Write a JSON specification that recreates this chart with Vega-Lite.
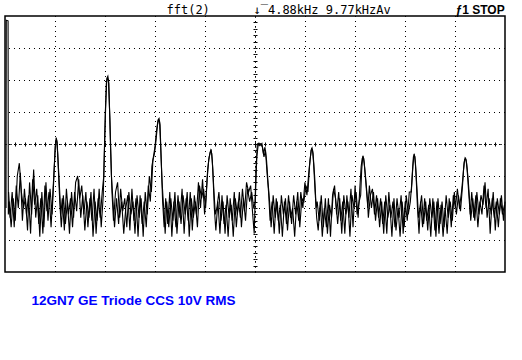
{
  "$schema": "https://vega.github.io/schema/vega-lite/v6.json",
  "width": 500,
  "height": 256,
  "autosize": "none",
  "padding": {"left": 5, "top": 16, "right": 17, "bottom": 88},
  "background": "white",
  "config": {
    "view": {"stroke": "black", "strokeWidth": 1.5},
    "axis": {"labels": false, "grid": false, "tickColor": "black", "domainColor": "black", "domainDash": [1, 4], "tickSize": 2, "tickWidth": 1, "titleColor": "black"}
  },
  "datasets": {
    "gx": [{"f": 0.977}, {"f": 1.954}, {"f": 2.931}, {"f": 3.908}, {"f": 4.885}, {"f": 5.862}, {"f": 6.839}, {"f": 7.816}, {"f": 8.793}],
    "gy": [{"db": -10}, {"db": -20}, {"db": -30}, {"db": -40}, {"db": -50}, {"db": -60}, {"db": -70}],
    "trace": [
      {"s": 1, "f": 0.02, "db": -60}, {"s": 1, "f": 0.025, "db": -1.3}, {"s": 1, "f": 0.06, "db": -1.5}, {"s": 1, "f": 0.065, "db": -62},
      {"s": 1, "f": 0.08, "db": -58}, {"s": 1, "f": 0.12, "db": -66}, {"s": 1, "f": 0.16, "db": -57}, {"s": 1, "f": 0.20, "db": -64}, {"s": 1, "f": 0.24, "db": -50}, {"s": 1, "f": 0.28, "db": -46}, {"s": 1, "f": 0.32, "db": -55}, {"s": 1, "f": 0.36, "db": -60}, {"s": 1, "f": 0.40, "db": -57}, {"s": 1, "f": 0.44, "db": -67}, {"s": 1, "f": 0.48, "db": -52}, {"s": 1, "f": 0.52, "db": -62}, {"s": 1, "f": 0.56, "db": -48}, {"s": 1, "f": 0.60, "db": -63}, {"s": 1, "f": 0.64, "db": -56}, {"s": 1, "f": 0.68, "db": -69}, {"s": 1, "f": 0.72, "db": -55}, {"s": 1, "f": 0.76, "db": -66}, {"s": 1, "f": 0.80, "db": -52}, {"s": 1, "f": 0.84, "db": -64}, {"s": 1, "f": 0.88, "db": -54}, {"s": 1, "f": 0.92, "db": -62},
      {"s": 1, "f": 0.95, "db": -52}, {"s": 1, "f": 0.98, "db": -41}, {"s": 1, "f": 1.00, "db": -38}, {"s": 1, "f": 1.02, "db": -39.5}, {"s": 1, "f": 1.04, "db": -47}, {"s": 1, "f": 1.07, "db": -58},
      {"s": 1, "f": 1.10, "db": -66}, {"s": 1, "f": 1.14, "db": -56}, {"s": 1, "f": 1.18, "db": -65}, {"s": 1, "f": 1.22, "db": -58}, {"s": 1, "f": 1.26, "db": -68}, {"s": 1, "f": 1.30, "db": -55}, {"s": 1, "f": 1.34, "db": -63}, {"s": 1, "f": 1.38, "db": -52}, {"s": 1, "f": 1.42, "db": -50}, {"s": 1, "f": 1.46, "db": -57}, {"s": 1, "f": 1.50, "db": -53}, {"s": 1, "f": 1.54, "db": -62}, {"s": 1, "f": 1.58, "db": -55}, {"s": 1, "f": 1.62, "db": -66}, {"s": 1, "f": 1.66, "db": -57}, {"s": 1, "f": 1.70, "db": -64}, {"s": 1, "f": 1.74, "db": -54}, {"s": 1, "f": 1.78, "db": -68}, {"s": 1, "f": 1.82, "db": -57}, {"s": 1, "f": 1.86, "db": -63}, {"s": 1, "f": 1.90, "db": -55},
      {"s": 1, "f": 1.93, "db": -50}, {"s": 1, "f": 1.96, "db": -30}, {"s": 1, "f": 1.99, "db": -19.5}, {"s": 1, "f": 2.01, "db": -18.8}, {"s": 1, "f": 2.03, "db": -21}, {"s": 1, "f": 2.06, "db": -40}, {"s": 1, "f": 2.09, "db": -55}, {"s": 1, "f": 2.12, "db": -64},
      {"s": 1, "f": 2.16, "db": -55}, {"s": 1, "f": 2.20, "db": -52}, {"s": 1, "f": 2.24, "db": -63}, {"s": 1, "f": 2.28, "db": -58}, {"s": 1, "f": 2.32, "db": -68}, {"s": 1, "f": 2.36, "db": -60}, {"s": 1, "f": 2.40, "db": -56}, {"s": 1, "f": 2.44, "db": -67}, {"s": 1, "f": 2.48, "db": -54}, {"s": 1, "f": 2.52, "db": -64}, {"s": 1, "f": 2.56, "db": -57}, {"s": 1, "f": 2.60, "db": -69}, {"s": 1, "f": 2.64, "db": -56}, {"s": 1, "f": 2.68, "db": -65}, {"s": 1, "f": 2.72, "db": -58}, {"s": 1, "f": 2.76, "db": -66}, {"s": 1, "f": 2.80, "db": -53}, {"s": 1, "f": 2.84, "db": -58},
      {"s": 1, "f": 2.87, "db": -47}, {"s": 1, "f": 2.90, "db": -44}, {"s": 1, "f": 2.93, "db": -41}, {"s": 1, "f": 2.96, "db": -36}, {"s": 1, "f": 2.99, "db": -32.5}, {"s": 1, "f": 3.01, "db": -32}, {"s": 1, "f": 3.03, "db": -34}, {"s": 1, "f": 3.05, "db": -44}, {"s": 1, "f": 3.08, "db": -58}, {"s": 1, "f": 3.11, "db": -66},
      {"s": 1, "f": 3.14, "db": -57}, {"s": 1, "f": 3.18, "db": -65}, {"s": 1, "f": 3.22, "db": -55}, {"s": 1, "f": 3.26, "db": -69}, {"s": 1, "f": 3.30, "db": -58}, {"s": 1, "f": 3.34, "db": -66}, {"s": 1, "f": 3.38, "db": -56}, {"s": 1, "f": 3.42, "db": -63}, {"s": 1, "f": 3.46, "db": -54}, {"s": 1, "f": 3.50, "db": -68}, {"s": 1, "f": 3.54, "db": -57}, {"s": 1, "f": 3.58, "db": -64}, {"s": 1, "f": 3.62, "db": -55}, {"s": 1, "f": 3.66, "db": -67}, {"s": 1, "f": 3.70, "db": -56}, {"s": 1, "f": 3.74, "db": -62}, {"s": 1, "f": 3.78, "db": -52}, {"s": 1, "f": 3.82, "db": -60}, {"s": 1, "f": 3.86, "db": -51}, {"s": 1, "f": 3.90, "db": -62},
      {"s": 1, "f": 3.93, "db": -56}, {"s": 1, "f": 3.96, "db": -48}, {"s": 1, "f": 3.99, "db": -44}, {"s": 1, "f": 4.02, "db": -42}, {"s": 1, "f": 4.04, "db": -43}, {"s": 1, "f": 4.06, "db": -48}, {"s": 1, "f": 4.09, "db": -60}, {"s": 1, "f": 4.12, "db": -67},
      {"s": 1, "f": 4.16, "db": -58}, {"s": 1, "f": 4.20, "db": -68}, {"s": 1, "f": 4.24, "db": -56}, {"s": 1, "f": 4.28, "db": -65}, {"s": 1, "f": 4.32, "db": -59}, {"s": 1, "f": 4.36, "db": -69}, {"s": 1, "f": 4.40, "db": -57}, {"s": 1, "f": 4.44, "db": -64}, {"s": 1, "f": 4.48, "db": -55}, {"s": 1, "f": 4.52, "db": -66}, {"s": 1, "f": 4.56, "db": -58}, {"s": 1, "f": 4.60, "db": -63}, {"s": 1, "f": 4.64, "db": -54}, {"s": 1, "f": 4.68, "db": -61}, {"s": 1, "f": 4.72, "db": -52}, {"s": 1, "f": 4.76, "db": -55}, {"s": 1, "f": 4.80, "db": -53}, {"s": 1, "f": 4.84, "db": -62}, {"s": 1, "f": 4.87, "db": -68},
      {"s": 1, "f": 4.90, "db": -50}, {"s": 1, "f": 4.93, "db": -40}, {"s": 1, "f": 4.96, "db": -39.7}, {"s": 1, "f": 5.00, "db": -40}, {"s": 1, "f": 5.03, "db": -41}, {"s": 1, "f": 5.06, "db": -44}, {"s": 1, "f": 5.09, "db": -42}, {"s": 1, "f": 5.12, "db": -49}, {"s": 1, "f": 5.15, "db": -55}, {"s": 1, "f": 5.18, "db": -64},
      {"s": 1, "f": 5.22, "db": -58}, {"s": 1, "f": 5.26, "db": -68}, {"s": 1, "f": 5.30, "db": -57}, {"s": 1, "f": 5.34, "db": -64}, {"s": 1, "f": 5.38, "db": -59}, {"s": 1, "f": 5.42, "db": -69}, {"s": 1, "f": 5.46, "db": -58}, {"s": 1, "f": 5.50, "db": -65}, {"s": 1, "f": 5.54, "db": -56}, {"s": 1, "f": 5.58, "db": -63}, {"s": 1, "f": 5.62, "db": -60}, {"s": 1, "f": 5.66, "db": -69}, {"s": 1, "f": 5.70, "db": -58}, {"s": 1, "f": 5.74, "db": -64}, {"s": 1, "f": 5.78, "db": -55}, {"s": 1, "f": 5.82, "db": -60}, {"s": 1, "f": 5.86, "db": -52}, {"s": 1, "f": 5.90, "db": -56},
      {"s": 1, "f": 5.93, "db": -50}, {"s": 1, "f": 5.96, "db": -45}, {"s": 1, "f": 5.99, "db": -41.5}, {"s": 1, "f": 6.01, "db": -42}, {"s": 1, "f": 6.03, "db": -46}, {"s": 1, "f": 6.06, "db": -55}, {"s": 1, "f": 6.09, "db": -63},
      {"s": 1, "f": 6.12, "db": -67}, {"s": 1, "f": 6.16, "db": -58}, {"s": 1, "f": 6.20, "db": -69}, {"s": 1, "f": 6.24, "db": -60}, {"s": 1, "f": 6.28, "db": -66}, {"s": 1, "f": 6.32, "db": -57}, {"s": 1, "f": 6.36, "db": -69}, {"s": 1, "f": 6.40, "db": -56}, {"s": 1, "f": 6.44, "db": -53}, {"s": 1, "f": 6.48, "db": -62}, {"s": 1, "f": 6.52, "db": -55}, {"s": 1, "f": 6.56, "db": -64}, {"s": 1, "f": 6.60, "db": -58}, {"s": 1, "f": 6.64, "db": -68}, {"s": 1, "f": 6.68, "db": -56}, {"s": 1, "f": 6.72, "db": -63}, {"s": 1, "f": 6.76, "db": -54}, {"s": 1, "f": 6.80, "db": -66}, {"s": 1, "f": 6.84, "db": -53}, {"s": 1, "f": 6.88, "db": -62}, {"s": 1, "f": 6.92, "db": -58},
      {"s": 1, "f": 6.95, "db": -56}, {"s": 1, "f": 6.97, "db": -48}, {"s": 1, "f": 6.99, "db": -44}, {"s": 1, "f": 7.01, "db": -44.5}, {"s": 1, "f": 7.03, "db": -48}, {"s": 1, "f": 7.06, "db": -54}, {"s": 1, "f": 7.09, "db": -60},
      {"s": 1, "f": 7.12, "db": -53}, {"s": 1, "f": 7.16, "db": -60}, {"s": 1, "f": 7.20, "db": -55}, {"s": 1, "f": 7.24, "db": -64}, {"s": 1, "f": 7.28, "db": -57}, {"s": 1, "f": 7.32, "db": -66}, {"s": 1, "f": 7.36, "db": -58}, {"s": 1, "f": 7.40, "db": -68}, {"s": 1, "f": 7.44, "db": -56}, {"s": 1, "f": 7.48, "db": -63}, {"s": 1, "f": 7.52, "db": -59}, {"s": 1, "f": 7.56, "db": -69}, {"s": 1, "f": 7.60, "db": -57}, {"s": 1, "f": 7.64, "db": -67}, {"s": 1, "f": 7.68, "db": -60}, {"s": 1, "f": 7.72, "db": -69}, {"s": 1, "f": 7.76, "db": -58}, {"s": 1, "f": 7.80, "db": -66}, {"s": 1, "f": 7.84, "db": -56}, {"s": 1, "f": 7.88, "db": -62}, {"s": 1, "f": 7.92, "db": -58},
      {"s": 1, "f": 7.95, "db": -52}, {"s": 1, "f": 7.97, "db": -47}, {"s": 1, "f": 7.99, "db": -43.5}, {"s": 1, "f": 8.01, "db": -44}, {"s": 1, "f": 8.03, "db": -49}, {"s": 1, "f": 8.06, "db": -60}, {"s": 1, "f": 8.09, "db": -68},
      {"s": 1, "f": 8.12, "db": -58}, {"s": 1, "f": 8.16, "db": -66}, {"s": 1, "f": 8.20, "db": -57}, {"s": 1, "f": 8.24, "db": -64}, {"s": 1, "f": 8.28, "db": -59}, {"s": 1, "f": 8.32, "db": -69}, {"s": 1, "f": 8.36, "db": -57}, {"s": 1, "f": 8.40, "db": -67}, {"s": 1, "f": 8.44, "db": -58}, {"s": 1, "f": 8.48, "db": -68}, {"s": 1, "f": 8.52, "db": -59}, {"s": 1, "f": 8.56, "db": -69}, {"s": 1, "f": 8.60, "db": -60}, {"s": 1, "f": 8.64, "db": -68}, {"s": 1, "f": 8.68, "db": -57}, {"s": 1, "f": 8.72, "db": -66}, {"s": 1, "f": 8.76, "db": -56}, {"s": 1, "f": 8.80, "db": -60}, {"s": 1, "f": 8.84, "db": -54}, {"s": 1, "f": 8.88, "db": -60}, {"s": 1, "f": 8.92, "db": -55},
      {"s": 1, "f": 8.95, "db": -50}, {"s": 1, "f": 8.97, "db": -46}, {"s": 1, "f": 8.99, "db": -44.4}, {"s": 1, "f": 9.01, "db": -45}, {"s": 1, "f": 9.03, "db": -48}, {"s": 1, "f": 9.06, "db": -55}, {"s": 1, "f": 9.09, "db": -62},
      {"s": 1, "f": 9.12, "db": -55}, {"s": 1, "f": 9.16, "db": -63}, {"s": 1, "f": 9.20, "db": -56}, {"s": 1, "f": 9.24, "db": -66}, {"s": 1, "f": 9.28, "db": -58}, {"s": 1, "f": 9.32, "db": -62}, {"s": 1, "f": 9.36, "db": -53}, {"s": 1, "f": 9.40, "db": -60}, {"s": 1, "f": 9.44, "db": -54}, {"s": 1, "f": 9.48, "db": -68}, {"s": 1, "f": 9.52, "db": -57}, {"s": 1, "f": 9.56, "db": -63}, {"s": 1, "f": 9.60, "db": -58}, {"s": 1, "f": 9.64, "db": -66}, {"s": 1, "f": 9.68, "db": -57}, {"s": 1, "f": 9.72, "db": -62}, {"s": 1, "f": 9.76, "db": -59},

      {"s": 2, "f": 0.07, "db": -55}, {"s": 2, "f": 0.10, "db": -63}, {"s": 2, "f": 0.14, "db": -55}, {"s": 2, "f": 0.18, "db": -66}, {"s": 2, "f": 0.22, "db": -53}, {"s": 2, "f": 0.26, "db": -60}, {"s": 2, "f": 0.30, "db": -49}, {"s": 2, "f": 0.34, "db": -64}, {"s": 2, "f": 0.38, "db": -54}, {"s": 2, "f": 0.42, "db": -62}, {"s": 2, "f": 0.46, "db": -56}, {"s": 2, "f": 0.50, "db": -68}, {"s": 2, "f": 0.54, "db": -51}, {"s": 2, "f": 0.58, "db": -59}, {"s": 2, "f": 0.62, "db": -54}, {"s": 2, "f": 0.66, "db": -65}, {"s": 2, "f": 0.70, "db": -57}, {"s": 2, "f": 0.74, "db": -68}, {"s": 2, "f": 0.78, "db": -53}, {"s": 2, "f": 0.82, "db": -61}, {"s": 2, "f": 0.86, "db": -55}, {"s": 2, "f": 0.90, "db": -66}, {"s": 2, "f": 0.94, "db": -54}, {"s": 2, "f": 0.97, "db": -45}, {"s": 2, "f": 0.99, "db": -39}, {"s": 2, "f": 1.01, "db": -39}, {"s": 2, "f": 1.03, "db": -43}, {"s": 2, "f": 1.06, "db": -52}, {"s": 2, "f": 1.09, "db": -62},
      {"s": 2, "f": 1.12, "db": -57}, {"s": 2, "f": 1.16, "db": -67}, {"s": 2, "f": 1.20, "db": -54}, {"s": 2, "f": 1.24, "db": -62}, {"s": 2, "f": 1.28, "db": -57}, {"s": 2, "f": 1.32, "db": -66}, {"s": 2, "f": 1.36, "db": -55}, {"s": 2, "f": 1.40, "db": -61}, {"s": 2, "f": 1.44, "db": -51}, {"s": 2, "f": 1.48, "db": -63}, {"s": 2, "f": 1.52, "db": -56}, {"s": 2, "f": 1.56, "db": -67}, {"s": 2, "f": 1.60, "db": -58}, {"s": 2, "f": 1.64, "db": -63}, {"s": 2, "f": 1.68, "db": -55}, {"s": 2, "f": 1.72, "db": -69}, {"s": 2, "f": 1.76, "db": -58}, {"s": 2, "f": 1.80, "db": -64}, {"s": 2, "f": 1.84, "db": -54}, {"s": 2, "f": 1.88, "db": -66}, {"s": 2, "f": 1.92, "db": -56}, {"s": 2, "f": 1.95, "db": -38}, {"s": 2, "f": 1.98, "db": -21}, {"s": 2, "f": 2.00, "db": -19.5}, {"s": 2, "f": 2.02, "db": -20}, {"s": 2, "f": 2.05, "db": -32}, {"s": 2, "f": 2.08, "db": -50}, {"s": 2, "f": 2.11, "db": -58},
      {"s": 2, "f": 2.14, "db": -66}, {"s": 2, "f": 2.18, "db": -57}, {"s": 2, "f": 2.22, "db": -65}, {"s": 2, "f": 2.26, "db": -54}, {"s": 2, "f": 2.30, "db": -61}, {"s": 2, "f": 2.34, "db": -57}, {"s": 2, "f": 2.38, "db": -66}, {"s": 2, "f": 2.42, "db": -55}, {"s": 2, "f": 2.46, "db": -62}, {"s": 2, "f": 2.50, "db": -58}, {"s": 2, "f": 2.54, "db": -68}, {"s": 2, "f": 2.58, "db": -56}, {"s": 2, "f": 2.62, "db": -63}, {"s": 2, "f": 2.66, "db": -57}, {"s": 2, "f": 2.70, "db": -69}, {"s": 2, "f": 2.74, "db": -55}, {"s": 2, "f": 2.78, "db": -62}, {"s": 2, "f": 2.82, "db": -50}, {"s": 2, "f": 2.86, "db": -55}, {"s": 2, "f": 2.89, "db": -45}, {"s": 2, "f": 2.92, "db": -43}, {"s": 2, "f": 2.95, "db": -39}, {"s": 2, "f": 2.98, "db": -34}, {"s": 2, "f": 3.00, "db": -32.5}, {"s": 2, "f": 3.02, "db": -33}, {"s": 2, "f": 3.04, "db": -40}, {"s": 2, "f": 3.07, "db": -52}, {"s": 2, "f": 3.10, "db": -60},
      {"s": 2, "f": 3.13, "db": -68}, {"s": 2, "f": 3.16, "db": -58}, {"s": 2, "f": 3.20, "db": -66}, {"s": 2, "f": 3.24, "db": -57}, {"s": 2, "f": 3.28, "db": -64}, {"s": 2, "f": 3.32, "db": -55}, {"s": 2, "f": 3.36, "db": -68}, {"s": 2, "f": 3.40, "db": -58}, {"s": 2, "f": 3.44, "db": -65}, {"s": 2, "f": 3.48, "db": -56}, {"s": 2, "f": 3.52, "db": -62}, {"s": 2, "f": 3.56, "db": -55}, {"s": 2, "f": 3.60, "db": -69}, {"s": 2, "f": 3.64, "db": -57}, {"s": 2, "f": 3.68, "db": -63}, {"s": 2, "f": 3.72, "db": -58}, {"s": 2, "f": 3.76, "db": -66}, {"s": 2, "f": 3.80, "db": -53}, {"s": 2, "f": 3.84, "db": -57}, {"s": 2, "f": 3.88, "db": -54}, {"s": 2, "f": 3.92, "db": -60}, {"s": 2, "f": 3.95, "db": -51}, {"s": 2, "f": 3.98, "db": -45}, {"s": 2, "f": 4.01, "db": -42.5}, {"s": 2, "f": 4.03, "db": -42}, {"s": 2, "f": 4.05, "db": -45}, {"s": 2, "f": 4.08, "db": -54}, {"s": 2, "f": 4.11, "db": -62},
      {"s": 2, "f": 4.14, "db": -60}, {"s": 2, "f": 4.18, "db": -55}, {"s": 2, "f": 4.22, "db": -64}, {"s": 2, "f": 4.26, "db": -58}, {"s": 2, "f": 4.30, "db": -68}, {"s": 2, "f": 4.34, "db": -56}, {"s": 2, "f": 4.38, "db": -63}, {"s": 2, "f": 4.42, "db": -59}, {"s": 2, "f": 4.46, "db": -69}, {"s": 2, "f": 4.50, "db": -57}, {"s": 2, "f": 4.54, "db": -62}, {"s": 2, "f": 4.58, "db": -55}, {"s": 2, "f": 4.62, "db": -66}, {"s": 2, "f": 4.66, "db": -57}, {"s": 2, "f": 4.70, "db": -64}, {"s": 2, "f": 4.74, "db": -54}, {"s": 2, "f": 4.78, "db": -58}, {"s": 2, "f": 4.82, "db": -55}, {"s": 2, "f": 4.86, "db": -60}, {"s": 2, "f": 4.89, "db": -58}, {"s": 2, "f": 4.92, "db": -44}, {"s": 2, "f": 4.95, "db": -40}, {"s": 2, "f": 4.98, "db": -40.5}, {"s": 2, "f": 5.02, "db": -39.8}, {"s": 2, "f": 5.05, "db": -43}, {"s": 2, "f": 5.08, "db": -41}, {"s": 2, "f": 5.11, "db": -45}, {"s": 2, "f": 5.14, "db": -52}, {"s": 2, "f": 5.17, "db": -58},
      {"s": 2, "f": 5.20, "db": -66}, {"s": 2, "f": 5.24, "db": -56}, {"s": 2, "f": 5.28, "db": -63}, {"s": 2, "f": 5.32, "db": -58}, {"s": 2, "f": 5.36, "db": -68}, {"s": 2, "f": 5.40, "db": -56}, {"s": 2, "f": 5.44, "db": -62}, {"s": 2, "f": 5.48, "db": -57}, {"s": 2, "f": 5.52, "db": -67}, {"s": 2, "f": 5.56, "db": -58}, {"s": 2, "f": 5.60, "db": -65}, {"s": 2, "f": 5.64, "db": -56}, {"s": 2, "f": 5.68, "db": -62}, {"s": 2, "f": 5.72, "db": -55}, {"s": 2, "f": 5.76, "db": -66}, {"s": 2, "f": 5.80, "db": -57}, {"s": 2, "f": 5.84, "db": -58}, {"s": 2, "f": 5.88, "db": -53}, {"s": 2, "f": 5.92, "db": -55}, {"s": 2, "f": 5.95, "db": -47}, {"s": 2, "f": 5.98, "db": -42}, {"s": 2, "f": 6.00, "db": -41.3}, {"s": 2, "f": 6.02, "db": -43}, {"s": 2, "f": 6.05, "db": -50}, {"s": 2, "f": 6.08, "db": -60},
      {"s": 2, "f": 6.10, "db": -58}, {"s": 2, "f": 6.14, "db": -64}, {"s": 2, "f": 6.18, "db": -56}, {"s": 2, "f": 6.22, "db": -66}, {"s": 2, "f": 6.26, "db": -57}, {"s": 2, "f": 6.30, "db": -68}, {"s": 2, "f": 6.34, "db": -59}, {"s": 2, "f": 6.38, "db": -63}, {"s": 2, "f": 6.42, "db": -54}, {"s": 2, "f": 6.46, "db": -57}, {"s": 2, "f": 6.50, "db": -65}, {"s": 2, "f": 6.54, "db": -57}, {"s": 2, "f": 6.58, "db": -68}, {"s": 2, "f": 6.62, "db": -56}, {"s": 2, "f": 6.66, "db": -62}, {"s": 2, "f": 6.70, "db": -58}, {"s": 2, "f": 6.74, "db": -69}, {"s": 2, "f": 6.78, "db": -56}, {"s": 2, "f": 6.82, "db": -60}, {"s": 2, "f": 6.86, "db": -55}, {"s": 2, "f": 6.90, "db": -63}, {"s": 2, "f": 6.94, "db": -52}, {"s": 2, "f": 6.96, "db": -47}, {"s": 2, "f": 6.98, "db": -44.5}, {"s": 2, "f": 7.00, "db": -44}, {"s": 2, "f": 7.02, "db": -46}, {"s": 2, "f": 7.05, "db": -51}, {"s": 2, "f": 7.08, "db": -57},
      {"s": 2, "f": 7.10, "db": -63}, {"s": 2, "f": 7.14, "db": -56}, {"s": 2, "f": 7.18, "db": -54}, {"s": 2, "f": 7.22, "db": -62}, {"s": 2, "f": 7.26, "db": -56}, {"s": 2, "f": 7.30, "db": -63}, {"s": 2, "f": 7.34, "db": -57}, {"s": 2, "f": 7.38, "db": -65}, {"s": 2, "f": 7.42, "db": -58}, {"s": 2, "f": 7.46, "db": -68}, {"s": 2, "f": 7.50, "db": -55}, {"s": 2, "f": 7.54, "db": -63}, {"s": 2, "f": 7.58, "db": -58}, {"s": 2, "f": 7.62, "db": -66}, {"s": 2, "f": 7.66, "db": -57}, {"s": 2, "f": 7.70, "db": -63}, {"s": 2, "f": 7.74, "db": -56}, {"s": 2, "f": 7.78, "db": -68}, {"s": 2, "f": 7.82, "db": -58}, {"s": 2, "f": 7.86, "db": -64}, {"s": 2, "f": 7.90, "db": -55}, {"s": 2, "f": 7.94, "db": -55}, {"s": 2, "f": 7.96, "db": -49}, {"s": 2, "f": 7.98, "db": -44}, {"s": 2, "f": 8.00, "db": -43.4}, {"s": 2, "f": 8.02, "db": -46}, {"s": 2, "f": 8.05, "db": -54}, {"s": 2, "f": 8.08, "db": -63},
      {"s": 2, "f": 8.10, "db": -61}, {"s": 2, "f": 8.14, "db": -56}, {"s": 2, "f": 8.18, "db": -65}, {"s": 2, "f": 8.22, "db": -58}, {"s": 2, "f": 8.26, "db": -67}, {"s": 2, "f": 8.30, "db": -57}, {"s": 2, "f": 8.34, "db": -63}, {"s": 2, "f": 8.38, "db": -58}, {"s": 2, "f": 8.42, "db": -69}, {"s": 2, "f": 8.46, "db": -57}, {"s": 2, "f": 8.50, "db": -65}, {"s": 2, "f": 8.54, "db": -58}, {"s": 2, "f": 8.58, "db": -66}, {"s": 2, "f": 8.62, "db": -56}, {"s": 2, "f": 8.66, "db": -63}, {"s": 2, "f": 8.70, "db": -58}, {"s": 2, "f": 8.74, "db": -64}, {"s": 2, "f": 8.78, "db": -55}, {"s": 2, "f": 8.82, "db": -62}, {"s": 2, "f": 8.86, "db": -56}, {"s": 2, "f": 8.90, "db": -61}, {"s": 2, "f": 8.94, "db": -53}, {"s": 2, "f": 8.96, "db": -48}, {"s": 2, "f": 8.98, "db": -45}, {"s": 2, "f": 9.00, "db": -44.5}, {"s": 2, "f": 9.02, "db": -46}, {"s": 2, "f": 9.05, "db": -51}, {"s": 2, "f": 9.08, "db": -58},
      {"s": 2, "f": 9.10, "db": -64}, {"s": 2, "f": 9.14, "db": -57}, {"s": 2, "f": 9.18, "db": -64}, {"s": 2, "f": 9.22, "db": -55}, {"s": 2, "f": 9.26, "db": -62}, {"s": 2, "f": 9.30, "db": -56}, {"s": 2, "f": 9.34, "db": -59}, {"s": 2, "f": 9.38, "db": -52}, {"s": 2, "f": 9.42, "db": -63}, {"s": 2, "f": 9.46, "db": -57}, {"s": 2, "f": 9.50, "db": -62}, {"s": 2, "f": 9.54, "db": -55}, {"s": 2, "f": 9.58, "db": -67}, {"s": 2, "f": 9.62, "db": -57}, {"s": 2, "f": 9.66, "db": -62}, {"s": 2, "f": 9.70, "db": -56}, {"s": 2, "f": 9.74, "db": -64}, {"s": 2, "f": 9.77, "db": -58}
    ]
  },
  "resolve": {"axis": {"x": "independent", "y": "independent"}},
  "layer": [
    {
      "data": {"name": "gx"},
      "mark": {"type": "rule", "color": "black", "strokeWidth": 1, "strokeDash": [1, 4], "xOffset": 0.5},
      "encoding": {
        "x": {
          "field": "f", "type": "quantitative",
          "scale": {"domain": [0, 9.77], "nice": false, "zero": false},
          "axis": {
            "orient": "top", "offset": -128,
            "values": [0.195, 0.391, 0.586, 0.782, 0.977, 1.172, 1.368, 1.563, 1.759, 1.954, 2.149, 2.345, 2.540, 2.736, 2.931, 3.126, 3.322, 3.517, 3.713, 3.908, 4.103, 4.299, 4.494, 4.690, 4.885, 5.080, 5.276, 5.471, 5.667, 5.862, 6.057, 6.253, 6.448, 6.644, 6.839, 7.034, 7.230, 7.425, 7.621, 7.816, 8.011, 8.207, 8.402, 8.598, 8.793, 8.988, 9.184, 9.379, 9.575],
            "title": "↓‾4.88kHz 9.77kHzAv",
            "titleFont": "DejaVu Sans Mono", "titleFontSize": 12, "titleFontWeight": "normal",
            "titleX": 248, "titleY": -131, "titleAlign": "left", "titleBaseline": "alphabetic", "titleAngle": 0
          }
        }
      }
    },
    {
      "data": {"name": "gy"},
      "mark": {"type": "rule", "color": "black", "strokeWidth": 1, "strokeDash": [1, 4], "yOffset": 0.5},
      "encoding": {
        "y": {
          "field": "db", "type": "quantitative",
          "scale": {"domain": [-80, 0], "nice": false, "zero": false},
          "axis": {
            "orient": "right", "offset": -250,
            "values": [-78, -76, -74, -72, -70, -68, -66, -64, -62, -60, -58, -56, -54, -52, -50, -48, -46, -44, -42, -40, -38, -36, -34, -32, -30, -28, -26, -24, -22, -20, -18, -16, -14, -12, -10, -8, -6, -4, -2],
            "title": "ƒ1 STOP",
            "titleFont": "Liberation Sans", "titleFontSize": 12, "titleFontWeight": "bold",
            "titleX": 200, "titleY": -3, "titleAlign": "left", "titleBaseline": "alphabetic", "titleAngle": 0
          }
        }
      }
    },
    {
      "data": {"name": "trace"},
      "mark": {"type": "line", "color": "black", "strokeWidth": 1.1, "interpolate": "linear"},
      "encoding": {
        "detail": {"field": "s", "type": "nominal"},
        "x": {
          "field": "f", "type": "quantitative",
          "scale": {"domain": [0, 9.77], "nice": false, "zero": false},
          "axis": {
            "orient": "bottom", "offset": -128,
            "values": [0.195, 0.391, 0.586, 0.782, 0.977, 1.172, 1.368, 1.563, 1.759, 1.954, 2.149, 2.345, 2.540, 2.736, 2.931, 3.126, 3.322, 3.517, 3.713, 3.908, 4.103, 4.299, 4.494, 4.690, 4.885, 5.080, 5.276, 5.471, 5.667, 5.862, 6.057, 6.253, 6.448, 6.644, 6.839, 7.034, 7.230, 7.425, 7.621, 7.816, 8.011, 8.207, 8.402, 8.598, 8.793, 8.988, 9.184, 9.379, 9.575],
            "title": "12GN7 GE Triode CCS 10V RMS",
            "titleColor": "#0000ff", "titleFont": "Liberation Sans", "titleFontSize": 13.5, "titleFontWeight": "bold",
            "titleX": 26, "titleY": 160, "titleAlign": "left", "titleBaseline": "alphabetic", "titleAngle": 0
          }
        },
        "y": {
          "field": "db", "type": "quantitative",
          "scale": {"domain": [-80, 0], "nice": false, "zero": false},
          "axis": {
            "orient": "left", "offset": -250,
            "values": [-78, -76, -74, -72, -70, -68, -66, -64, -62, -60, -58, -56, -54, -52, -50, -48, -46, -44, -42, -40, -38, -36, -34, -32, -30, -28, -26, -24, -22, -20, -18, -16, -14, -12, -10, -8, -6, -4, -2],
            "title": "fft(2)",
            "titleFont": "DejaVu Sans Mono", "titleFontSize": 12, "titleFontWeight": "normal",
            "titleX": -89, "titleY": -3, "titleAlign": "left", "titleBaseline": "alphabetic", "titleAngle": 0
          }
        }
      }
    }
  ]
}
